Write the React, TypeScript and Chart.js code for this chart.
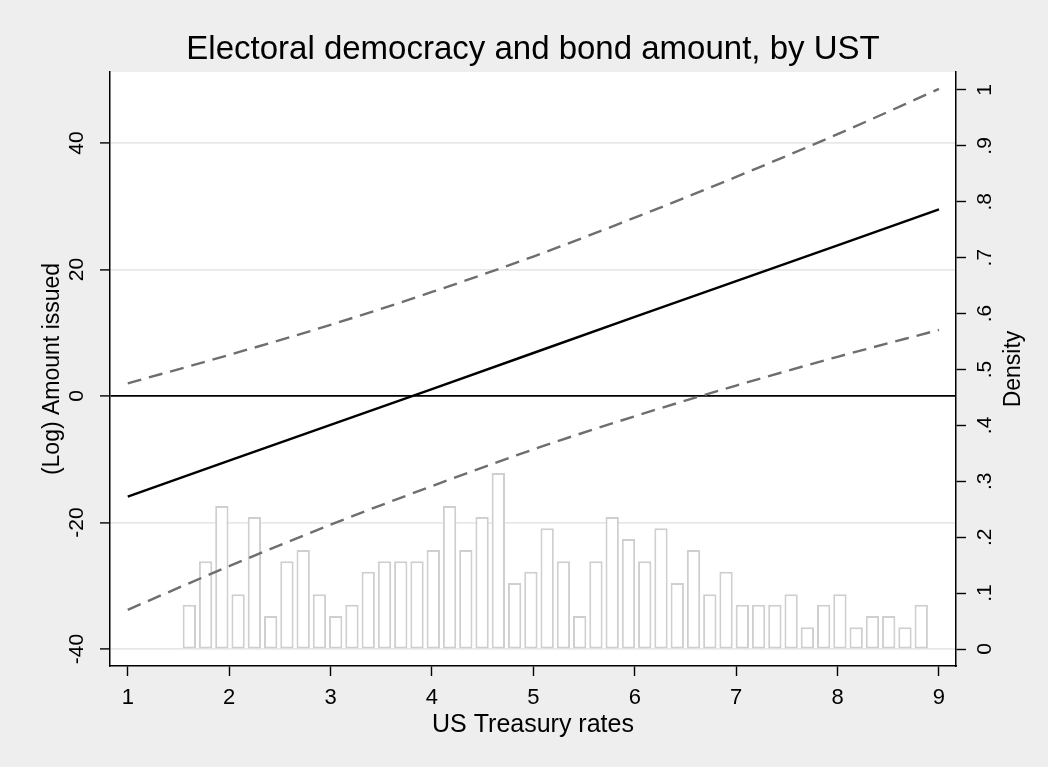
import { useEffect, useRef } from 'react';
import { Chart, registerables } from 'chart.js';

Chart.register(...registerables);

// ---- data ----
const xLineValues = [1, 2, 3, 4, 5, 6, 7, 8, 9];
const predicted = [-15.9, -10.2, -4.55, 1.1, 6.8, 12.5, 18.15, 23.8, 29.5];
const upperCI = [2.0, 6.5, 11.25, 16.45, 22.05, 28.2, 34.65, 41.4, 48.55];
const lowerCI = [-33.8, -26.9, -20.35, -14.25, -8.45, -3.2, 1.65, 6.2, 10.45];

const binStart = 1.527;
const binWidth = 0.1604;
const densities = [
  0.079, 0.157, 0.256, 0.098, 0.236, 0.059, 0.157, 0.177, 0.098, 0.059,
  0.079, 0.138, 0.157, 0.157, 0.157, 0.177, 0.256, 0.177, 0.236, 0.315,
  0.118, 0.138, 0.216, 0.157, 0.059, 0.157, 0.236, 0.197, 0.157, 0.216,
  0.118, 0.177, 0.098, 0.138, 0.079, 0.079, 0.079, 0.098, 0.039, 0.079,
  0.098, 0.039, 0.059, 0.059, 0.039, 0.079,
];

const xTickValues = [1, 2, 3, 4, 5, 6, 7, 8, 9];
const yTickValues = [-40, -20, 0, 20, 40];
const densityTickValues = [0, 0.1, 0.2, 0.3, 0.4, 0.5, 0.6, 0.7, 0.8, 0.9, 1];
const densityTickLabels = ['0', '.1', '.2', '.3', '.4', '.5', '.6', '.7', '.8', '.9', '1'];

const titleText = 'Electoral democracy and bond amount, by UST';
const xTitle = 'US Treasury rates';
const yTitle = '(Log) Amount issued';
const y2Title = 'Density';

const FONT = '"Liberation Sans", Arial, Helvetica, sans-serif';

export default function App() {
  const canvasRef = useRef<HTMLCanvasElement | null>(null);

  useEffect(() => {
    const canvas = canvasRef.current;
    if (!canvas) return;

    const plotBackground = {
      id: 'plotBackground',
      beforeDraw(chart: any) {
        const { ctx, chartArea } = chart;
        ctx.save();
        ctx.fillStyle = '#ffffff';
        ctx.fillRect(chartArea.left, chartArea.top, chartArea.right - chartArea.left, chartArea.bottom - chartArea.top);
        ctx.restore();
      },
    };

    const rightTitle = {
      id: 'rightTitle',
      afterDraw(chart: any) {
        const { ctx, chartArea } = chart;
        const sc = chart.scales.y2;
        ctx.save();
        ctx.translate(sc.right - 34.5, (chartArea.top + chartArea.bottom) / 2);
        ctx.rotate(-Math.PI / 2);
        ctx.font = `23px ${FONT}`;
        ctx.fillStyle = '#000';
        ctx.textAlign = 'center';
        ctx.textBaseline = 'middle';
        ctx.fillText(y2Title, 0, 0);
        ctx.restore();
      },
    };

    const chart = new Chart(canvas, {
      type: 'bar',
      data: {
        datasets: [
          {
            type: 'line',
            data: xLineValues.map((x, i) => ({ x, y: predicted[i] })),
            yAxisID: 'y',
            borderColor: '#000000',
            borderWidth: 2.4,
            pointRadius: 0,
            order: 0,
          },
          {
            type: 'line',
            data: xLineValues.map((x, i) => ({ x, y: upperCI[i] })),
            yAxisID: 'y',
            borderColor: '#6e6e6e',
            borderWidth: 2.4,
            borderDash: [14, 8],
            pointRadius: 0,
            cubicInterpolationMode: 'monotone',
            order: 1,
          },
          {
            type: 'line',
            data: xLineValues.map((x, i) => ({ x, y: lowerCI[i] })),
            yAxisID: 'y',
            borderColor: '#6e6e6e',
            borderWidth: 2.4,
            borderDash: [14, 8],
            pointRadius: 0,
            cubicInterpolationMode: 'monotone',
            order: 2,
          },
          {
            type: 'bar',
            data: densities.map((d, i) => ({ x: binStart + (i + 0.5) * binWidth, y: d })),
            yAxisID: 'y2',
            backgroundColor: '#ffffff',
            borderColor: '#cfcfcf',
            borderWidth: 2,
            borderSkipped: false,
            barPercentage: 0.82,
            categoryPercentage: 1,
            order: 10,
          },
        ] as any,
      },
      options: {
        animation: false,
        responsive: false,
        devicePixelRatio: 1,
        font: { family: FONT },
        color: '#000',
        layout: { padding: { left: 18, right: 0, top: 0, bottom: 0 } },
        plugins: {
          legend: { display: false },
          tooltip: { enabled: false },
          title: {
            display: true,
            text: titleText,
            color: '#000',
            font: { family: FONT, size: 33, weight: 'normal', lineHeight: 1.2 },
            padding: { top: 30.2, bottom: 2.2 },
          },
        },
        scales: {
          x: {
            type: 'linear',
            position: 'bottom',
            min: 0.825,
            max: 9.168,
            offset: false,
            afterBuildTicks: (scale: any) => {
              scale.ticks = xTickValues.map((v) => ({ value: v }));
            },
            afterFit: (scale: any) => {
              scale.height = 101;
            },
            grid: {
              display: true,
              drawOnChartArea: false,
              drawTicks: true,
              tickLength: 10,
              tickColor: '#000',
              tickWidth: 1.4,
              offset: false,
            },
            border: { display: true, color: '#000', width: 1.5 },
            ticks: {
              color: '#000',
              font: { family: FONT, size: 22 },
              padding: 8.8,
              maxRotation: 0,
              minRotation: 0,
              autoSkip: false,
              callback: (v: any) => String(v),
            },
            title: {
              display: true,
              text: xTitle,
              color: '#000',
              font: { family: FONT, size: 25 },
              padding: { top: 0, bottom: 27 },
            },
          },
          y: {
            type: 'linear',
            position: 'left',
            min: -42.69,
            max: 51.23,
            afterBuildTicks: (scale: any) => {
              scale.ticks = yTickValues.map((v) => ({ value: v }));
            },
            afterFit: (scale: any) => {
              scale.width = 92;
            },
            grid: {
              display: true,
              drawOnChartArea: true,
              drawTicks: true,
              tickLength: 10,
              tickColor: '#000',
              tickWidth: 1.4,
              color: (ctx: any) => (ctx.tick && ctx.tick.value === 0 ? '#000000' : '#e8e8e8'),
              lineWidth: 1.8,
            },
            border: { display: true, color: '#000', width: 1.5 },
            ticks: {
              color: '#000',
              font: { family: FONT, size: 21 },
              padding: 7.3,
              minRotation: 90,
              maxRotation: 90,
              crossAlign: 'center',
              autoSkip: false,
              callback: (v: any) => String(v),
            },
            title: {
              display: true,
              text: yTitle,
              color: '#000',
              font: { family: FONT, size: 23 },
              padding: { top: 20.7, bottom: 0 },
            },
          },
          y2: {
            type: 'linear',
            position: 'right',
            min: -0.0304,
            max: 1.0322,
            afterBuildTicks: (scale: any) => {
              scale.ticks = densityTickValues.map((v) => ({ value: v }));
            },
            afterFit: (scale: any) => {
              scale.width = 92;
            },
            grid: {
              display: true,
              drawOnChartArea: false,
              drawTicks: true,
              tickLength: 10,
              tickColor: '#000',
              tickWidth: 1.4,
            },
            border: { display: true, color: '#000', width: 1.5 },
            ticks: {
              color: '#000',
              font: { family: FONT, size: 21 },
              padding: 10.7,
              minRotation: 90,
              maxRotation: 90,
              crossAlign: 'center',
              autoSkip: false,
              callback: (_v: any, i: number) => densityTickLabels[i],
            },
            title: { display: false },
          },
        },
      } as any,
      plugins: [plotBackground, rightTitle],
    });

    return () => {
      chart.destroy();
    };
  }, []);

  return (
    <div
      style={{
        position: 'fixed',
        left: 0,
        top: 0,
        width: 1048,
        height: 767,
        background: '#eeeeee',
      }}
    >
      <canvas ref={canvasRef} width={1048} height={767} style={{ display: 'block', width: 1048, height: 767 }} />
    </div>
  );
}
